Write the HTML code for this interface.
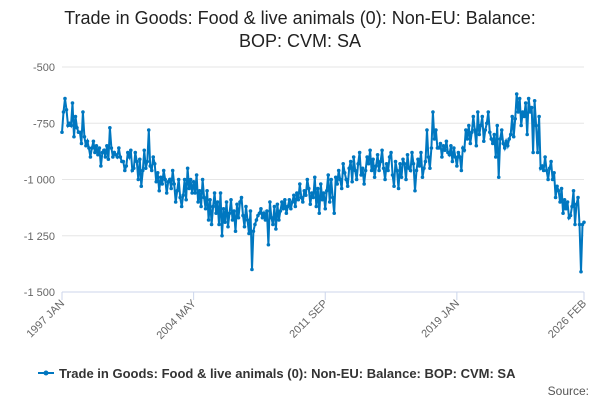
<!DOCTYPE html>
<html><head><meta charset="utf-8"><style>
body{margin:0;background:#fff;font-family:"Liberation Sans",sans-serif}
svg text{font-family:"Liberation Sans",sans-serif}
</style></head><body>
<svg id="c" width="600" height="400">
<text x="300" y="24" text-anchor="middle" font-size="18" fill="#222">Trade in Goods: Food &amp; live animals (0): Non-EU: Balance:</text>
<text x="300" y="47" text-anchor="middle" font-size="18" fill="#222">BOP: CVM: SA</text>
<g id="grid"></g><g id="xa"></g><g id="ser"></g>
<g>
<line x1="38" y1="373" x2="54" y2="373" stroke="#0077c0" stroke-width="2"/><circle cx="46" cy="373" r="2.5" fill="#0077c0"/>
<text x="59" y="378" font-size="13" font-weight="bold" fill="#333">Trade in Goods: Food &amp; live animals (0): Non-EU: Balance: BOP: CVM: SA</text></g>
<text x="589" y="395" text-anchor="end" font-size="12" fill="#555">Source:</text>
</svg>
<script>
const yTicks=[-500,-750,-1000,-1250,-1500];
const yTickLabels=["-500","-750","-1 000","-1 250","-1 500"];
const xTickIdx=[0,88,176,264,349];
const xTickLabels=["1997 JAN","2004 MAY","2011 SEP","2019 JAN","2026 FEB"];
const values=[
-790,-700,-640,-690,-760,-750,-760,-660,-810,-720,-770,-790,
-790,-840,-700,-810,-850,-830,-860,-900,-860,-830,-880,-850,
-890,-860,-940,-880,-870,-900,-850,-910,-770,-860,-900,-880,
-890,-900,-860,-900,-920,-920,-960,-940,-880,-900,-870,-960,
-950,-880,-920,-1000,-910,-1030,-960,-870,-950,-920,-780,-940,
-960,-900,-930,-1010,-970,-1050,-990,-1020,-960,-1000,-1060,-1010,
-1000,-1040,-960,-1020,-1100,-1050,-1000,-1080,-1120,-1070,-1000,-1090,
-950,-1040,-1000,-1060,-1010,-1060,-980,-1100,-1050,-1120,-1000,-1080,
-1130,-1050,-1180,-1090,-1200,-1120,-1060,-1150,-1100,-1200,-1060,-1250,
-1130,-1190,-1100,-1210,-1150,-1090,-1180,-1140,-1230,-1110,-1170,-1100,
-1080,-1160,-1210,-1120,-1180,-1240,-1140,-1400,-1230,-1200,-1180,-1160,
-1150,-1130,-1170,-1150,-1180,-1140,-1290,-1100,-1170,-1200,-1120,-1220,
-1110,-1180,-1140,-1100,-1130,-1090,-1150,-1120,-1090,-1130,-1100,-1070,
-1120,-1060,-1090,-1020,-1080,-1100,-1050,-1070,-1000,-1040,-1110,-1060,
-1080,-990,-1120,-1040,-1150,-1020,-1090,-1060,-1130,-1050,-980,-1100,
-1000,-1080,-1150,-990,-1020,-960,-1000,-1040,-930,-970,-1000,-1030,
-950,-920,-1010,-900,-960,-1000,-930,-880,-980,-950,-1020,-960,
-900,-930,-870,-960,-910,-990,-940,-890,-960,-920,-870,-950,
-1000,-930,-960,-900,-880,-980,-1030,-920,-960,-1040,-930,-990,
-910,-930,-1000,-890,-950,-960,-880,-930,-1050,-960,-910,-940,
-880,-990,-950,-920,-780,-900,-950,-860,-700,-820,-780,-860,
-860,-840,-900,-850,-870,-830,-880,-890,-850,-920,-860,-900,
-940,-880,-900,-960,-860,-870,-780,-820,-760,-840,-790,-720,
-780,-850,-700,-800,-760,-720,-830,-780,-750,-700,-790,-820,
-840,-800,-900,-760,-990,-820,-780,-840,-860,-830,-850,-820,
-800,-720,-810,-730,-620,-700,-640,-760,-700,-720,-660,-800,
-640,-700,-680,-880,-650,-760,-880,-720,-950,-940,-960,-900,
-960,-1000,-950,-920,-1000,-970,-1080,-1030,-1050,-1100,-1040,-1150,
-1090,-1130,-1100,-1170,-1160,-1120,-1050,-1200,-1110,-1080,-1200,-1410,
-1200,-1190];
const NS="http://www.w3.org/2000/svg";
const X0=62,X1=584,Y0=67,Y1=292;
const xs=i=>X0+(X1-X0)*i/(values.length-1);
const ys=v=>Y0+(Y1-Y0)*(-500-v)/1000;
function mk(t,a,p){const e=document.createElementNS(NS,t);for(const k in a)e.setAttribute(k,a[k]);p.appendChild(e);return e;}
const grid=document.getElementById('grid');
yTicks.forEach((t,i)=>{
 const l=mk('line',{x1:X0,x2:X1,y1:ys(t),y2:ys(t),stroke:i==4?'#ccd6eb':'#e6e6e6'},grid);
 
 
 const tx=mk('text',{x:55,y:ys(t)+4,'text-anchor':'end','font-size':11,fill:'#666'},grid);
 tx.textContent=yTickLabels[i];
 
 
});
const xa=document.getElementById('xa');
xTickIdx.forEach((ix,i)=>{
 const x=xs(ix);
 const l=mk('line',{x1:x,x2:x,y1:Y1,y2:Y1+8,stroke:'#ccd6eb'},xa);
 
 
 const tx=mk('text',{x:x+3,y:Y1+12,'text-anchor':'end','font-size':11,fill:'#666',transform:`rotate(-45 ${x+3} ${Y1+12})`},xa);
 tx.textContent=xTickLabels[i];
 
 
});
const ser=document.getElementById('ser');
const p=mk('path',{d:values.map((v,i)=>(i?'L':'M')+xs(i).toFixed(1)+' '+ys(v).toFixed(1)).join(''),fill:'none',stroke:'#0077c0','stroke-width':2},ser);


values.forEach((v,i)=>{
 const c=mk('circle',{cx:xs(i),cy:ys(v),r:1.8,fill:'#0077c0'},ser);
 
 
});
</script>
</body></html>
